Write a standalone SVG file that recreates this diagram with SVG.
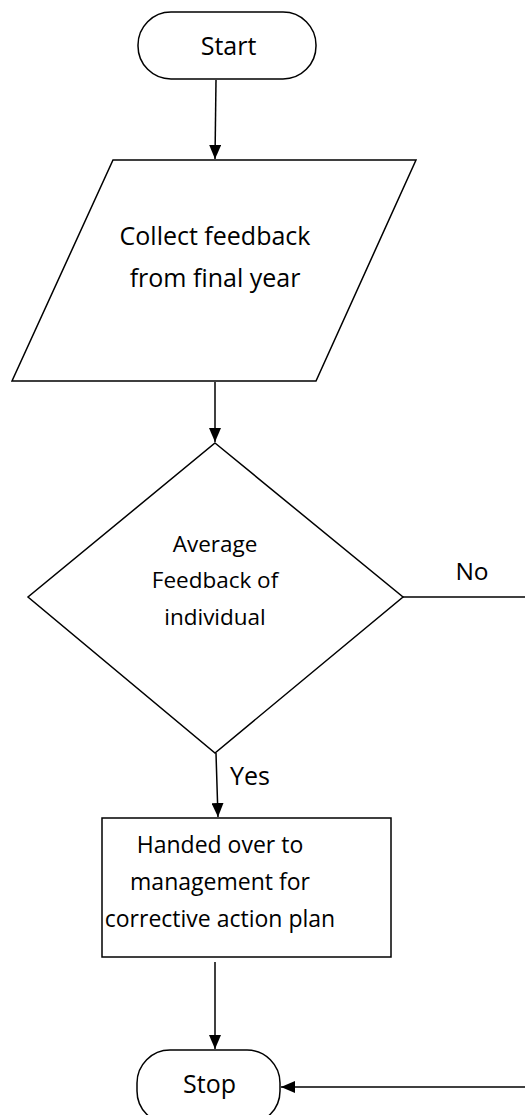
<svg xmlns="http://www.w3.org/2000/svg" width="525" height="1115" viewBox="0 0 525 1115">
<style>
.s{fill:#fff;stroke:#000;stroke-width:1.5}
.c{fill:none;stroke:#000;stroke-width:1.5}
text{font-family:"Open Sans","Liberation Sans",sans-serif;fill:#000;text-anchor:middle}
</style>
<defs>
<marker id="b" viewBox="0 0 14 12" refX="14" refY="6" markerWidth="14" markerHeight="12" markerUnits="userSpaceOnUse" orient="auto"><path d="M0,0 L14,6 L0,12 Z" fill="#000"/></marker>
</defs>
<g id="start"><rect class="s" x="138" y="12" width="178" height="67" rx="33" ry="33"/><text x="228.5" y="55" font-size="25">Start</text></g>
<g id="collect"><polygon class="s" points="113,160 416,160 316,381 12,381"/><text x="215" y="245" font-size="25">Collect feedback</text><text x="215" y="287" font-size="25">from final year</text></g>
<g id="decision"><polygon class="s" points="215,443 403,597 215,753 28,597"/><text x="215" y="552" font-size="22.5">Average</text><text x="215" y="588" font-size="22.5">Feedback of</text><text x="215" y="625" font-size="22.5">individual</text></g>
<g id="handed"><rect class="s" x="102" y="818" width="289" height="139"/><text x="220" y="853" font-size="23">Handed over to</text><text x="220" y="890" font-size="23">management for</text><text x="220" y="927" font-size="23">corrective action plan</text></g>
<g id="stop"><rect class="s" x="137" y="1050" width="143" height="74" rx="33" ry="33"/><text x="209.5" y="1093" font-size="25">Stop</text></g>
<g id="connectors">
<line class="c" x1="216" y1="80" x2="215" y2="159" marker-end="url(#b)"/>
<line class="c" x1="215" y1="382" x2="215" y2="442" marker-end="url(#b)"/>
<line class="c" x1="216" y1="753" x2="218" y2="817" marker-end="url(#b)"/>
<line class="c" x1="215" y1="962" x2="215" y2="1049" marker-end="url(#b)"/>
<polyline class="c" points="403,597 525,597"/>
<line class="c" x1="525" y1="1087" x2="281" y2="1087" marker-end="url(#b)"/>
<text x="472" y="580" font-size="24.5">No</text>
<text x="250" y="785" font-size="25">Yes</text>
</g>
</svg>
